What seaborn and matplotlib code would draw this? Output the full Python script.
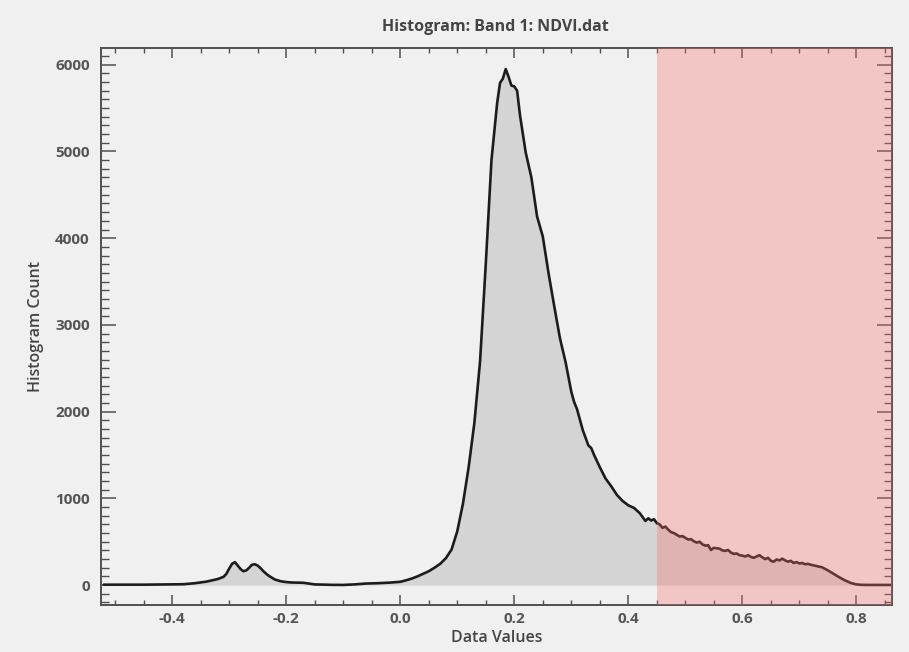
import matplotlib
matplotlib.use("Agg")
import matplotlib.pyplot as plt
import seaborn as sns
import pandas as pd
from matplotlib.ticker import MultipleLocator

# ---- data ----
data_values = [
    -0.52, -0.50, -0.45, -0.40, -0.38, -0.36, -0.34, -0.33, -0.32, -0.31,
    -0.305, -0.30, -0.295, -0.29, -0.285, -0.28, -0.275, -0.27, -0.265, -0.26,
    -0.255, -0.25, -0.245, -0.24, -0.235, -0.23, -0.22, -0.21, -0.20, -0.19,
    -0.18, -0.17, -0.16, -0.15, -0.12, -0.10, -0.08, -0.06, -0.04, -0.02,
    0.00, 0.01, 0.02, 0.03, 0.04, 0.05, 0.06, 0.07, 0.08, 0.09,
    0.10, 0.11, 0.12, 0.13, 0.14, 0.15, 0.16, 0.17, 0.175, 0.18,
    0.185, 0.19, 0.195, 0.20, 0.205, 0.21, 0.22, 0.23, 0.24, 0.25,
    0.26, 0.27, 0.28, 0.29, 0.30, 0.305, 0.31, 0.32, 0.33, 0.335,
    0.34, 0.35, 0.36, 0.37, 0.38, 0.39, 0.40, 0.41, 0.42, 0.43,
    0.435, 0.44, 0.445, 0.45, 0.455, 0.46, 0.465, 0.47, 0.475, 0.48,
    0.485, 0.49, 0.495, 0.50, 0.505, 0.51, 0.515, 0.52, 0.525, 0.53,
    0.535, 0.54, 0.545, 0.55, 0.555, 0.56, 0.565, 0.57, 0.575, 0.58,
    0.585, 0.59, 0.595, 0.60, 0.605, 0.61, 0.615, 0.62, 0.625, 0.63,
    0.635, 0.64, 0.645, 0.65, 0.655, 0.66, 0.665, 0.67, 0.675, 0.68,
    0.685, 0.69, 0.695, 0.70, 0.705, 0.71, 0.715, 0.72, 0.73, 0.74,
    0.75, 0.76, 0.77, 0.78, 0.79, 0.80, 0.81, 0.82, 0.86,
]
histogram_count = [
    5, 5, 5, 8, 10, 22, 40, 55, 70, 95,
    130, 190, 245, 265, 225, 185, 160, 170, 200, 235,
    240, 225, 195, 160, 130, 105, 65, 45, 35, 30,
    28, 27, 18, 8, 3, 2, 8, 18, 22, 28,
    38, 55, 75, 100, 130, 160, 200, 245, 310, 410,
    620, 940, 1360, 1870, 2580, 3700, 4900, 5560, 5790, 5840,
    5950, 5860, 5760, 5750, 5700, 5420, 4990, 4700, 4250, 4020,
    3600, 3220, 2850, 2570, 2230, 2110, 2030, 1790, 1610, 1580,
    1500, 1360, 1230, 1140, 1040, 970, 920, 890, 830, 740,
    770, 745, 760, 715, 700, 660, 675, 640, 610, 600,
    580, 560, 565, 545, 525, 530, 505, 490, 500, 470,
    455, 460, 405, 430, 425, 420, 400, 395, 405, 375,
    360, 365, 345, 340, 330, 345, 325, 315, 330, 345,
    320, 300, 315, 280, 270, 295, 285, 305, 285, 270,
    280, 255, 265, 250, 255, 240, 245, 235, 220, 205,
    170, 130, 90, 55, 25, 8, 3, 2, 2,
]
threshold_range = [0.45, 0.862]
x_ticks = [-0.4, -0.2, 0.0, 0.2, 0.4, 0.6, 0.8]
y_ticks = [0, 1000, 2000, 3000, 4000, 5000, 6000]

df = pd.DataFrame({"Data Values": data_values, "Histogram Count": histogram_count})

sns.set_theme(style="ticks")
plt.rcParams["font.family"] = ["Open Sans", "DejaVu Sans"]

bg = "#f0f0f0"
fig = plt.figure(figsize=(9.09, 6.52), dpi=100, facecolor=bg)
ax = fig.add_axes([0.111, 0.072, 0.870, 0.854])
ax.set_facecolor(bg)

ax.fill_between(df["Data Values"], 0, df["Histogram Count"], color="#d4d4d4",
                linewidth=0, zorder=1)
sns.lineplot(data=df, x="Data Values", y="Histogram Count", ax=ax,
             color="#1c1c1c", linewidth=1.9, zorder=2)
ax.axvspan(threshold_range[0], threshold_range[1], color=(0.98, 0.44, 0.44),
           alpha=0.32, linewidth=0, zorder=3)

ax.set_xlim(-0.525, 0.862)
ax.set_ylim(-230, 6190)
ax.set_xticks(x_ticks)
ax.set_xticklabels([f"{v:.1f}" for v in x_ticks])
ax.set_yticks(y_ticks)
ax.xaxis.set_minor_locator(MultipleLocator(0.05))
ax.yaxis.set_minor_locator(MultipleLocator(100))

tick_col = "#555555"
ax.tick_params(axis="x", which="major", direction="in", length=7, width=1.1,
               color="#505050", top=True, bottom=True, labelsize=11,
               labelcolor=tick_col, pad=5)
ax.tick_params(axis="x", which="minor", direction="in", length=3.5, width=1,
               color="#505050", top=True, bottom=True)
ax.tick_params(axis="y", which="major", direction="in", length=11, width=1.1,
               color="#505050", left=True, right=True, labelsize=11,
               labelcolor=tick_col, pad=8)
ax.tick_params(axis="y", which="minor", direction="in", length=5.5, width=1,
               color="#505050", left=True, right=True)
for lab in ax.get_xticklabels() + ax.get_yticklabels():
    lab.set_fontweight("bold")

for sp in ax.spines.values():
    sp.set_visible(True)
    sp.set_color("#505050")
    sp.set_linewidth(1.4)

ax.set_xlabel("Data Values", fontsize=11.5, fontweight="semibold", color="#444444",
              labelpad=3)
ax.set_ylabel("Histogram Count", fontsize=11.5, fontweight="semibold",
              color="#444444", labelpad=8)
fig.text(0.545, 0.958, "Histogram: Band 1: NDVI.dat", ha="center", va="center",
         fontsize=11.5, fontweight="bold", color="#444444")

fig.savefig("out.png", dpi=100, facecolor=bg)
